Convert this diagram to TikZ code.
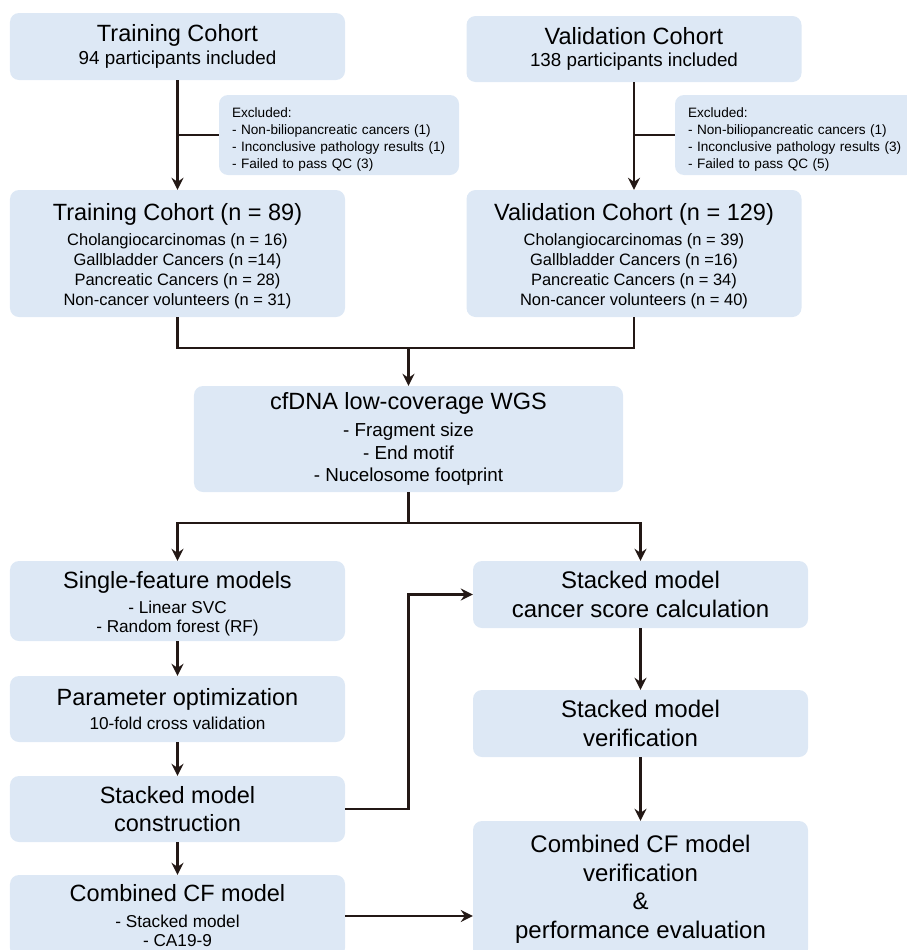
\documentclass[tikz,border=0pt]{standalone}
\usepackage{fontspec}
\setmainfont{Liberation Sans}
\usetikzlibrary{arrows.meta}

\definecolor{boxblue}{RGB}{221,232,245}
\definecolor{linedark}{RGB}{35,24,21}

\newcommand{\bigfont}{\fontsize{23.5bp}{27.5bp}\selectfont}
\newcommand{\rightfont}{\fontsize{24bp}{28.5bp}\selectfont}
\newcommand{\subfont}{\fontsize{18.8bp}{22.5bp}\selectfont}
\newcommand{\listfont}{\fontsize{17.2bp}{19.5bp}\selectfont}
\newcommand{\bodyfont}{\fontsize{16.5bp}{20bp}\selectfont}
\newcommand{\notefont}{\fontsize{13.6bp}{17bp}\selectfont}
\newcommand{\lift}[1]{\rule{0pt}{#1}}

\begin{document}
\begin{tikzpicture}[x=1bp, y=-1bp,
	box/.style={fill=boxblue, rounded corners=9bp, align=center, inner sep=0pt, minimum width=335bp},
	note/.style={fill=boxblue, rounded corners=9bp, align=left, text width=214bp, inner xsep=13bp, inner ysep=0pt, minimum height=80bp, font=\notefont},
	conn/.style={draw=linedark, line width=2.1bp},
	arr/.style={conn, -{Stealth[length=12bp, width=12bp, inset=4bp]}}]
	\useasboundingbox (0, 0) rectangle (907, 950);

	% cohorts
	\node [box, minimum height=67bp, font=\subfont] (trainTop) at (177.5, 46.5) {{\bigfont Training Cohort}\\[0bp] 94 participants included};
	\node [box, minimum height=66bp, font=\subfont] (valTop) at (634, 49) {{\bigfont Validation Cohort}\\[0bp] 138 participants included};

	\node [note] (exclL) at (339, 135) {\lift{18bp}Excluded:\\ - Non-biliopancreatic cancers (1)\\ - Inconclusive pathology results (1)\\ - Failed to pass QC (3)};
	\node [note] (exclR) at (795, 135) {\lift{18bp}Excluded:\\ - Non-biliopancreatic cancers (1)\\ - Inconclusive pathology results (3)\\ - Failed to pass QC (5)};

	\node [box, minimum height=127bp, font=\bodyfont] (trainMid) at (177.5, 253.5) {{\bigfont\lift{23bp}Training Cohort (n = 89)}\\[5bp] Cholangiocarcinomas (n = 16)\\ Gallbladder Cancers (n =14)\\ Pancreatic Cancers (n = 28)\\ Non-cancer volunteers (n = 31)};
	\node [box, minimum height=127bp, font=\bodyfont] (valMid) at (634, 253.5) {{\bigfont\lift{23bp}Validation Cohort (n = 129)}\\[5bp] Cholangiocarcinomas (n = 39)\\ Gallbladder Cancers (n =16)\\ Pancreatic Cancers (n = 34)\\ Non-cancer volunteers (n = 40)};

	% sequencing
	\node [box, minimum width=429bp, minimum height=106bp, font=\subfont] (cfdna) at (408.5, 439) {{\bigfont cfDNA low-coverage WGS}\\[5bp] - Fragment size\\ - End motif\\ - Nucelosome footprint};

	% training side
	\node [box, minimum height=80bp, font=\listfont] (single) at (177.5, 601) {{\bigfont\lift{23bp}Single-feature models}\\[5bp] - Linear SVC\\ - Random forest (RF)};
	\node [box, minimum height=66bp, font=\listfont] (param) at (177.5, 709) {{\bigfont Parameter optimization}\\[4bp] 10-fold cross validation};
	\node [box, minimum height=66bp, font=\bigfont] (stackCons) at (177.5, 809) {Stacked model\\ construction};
	\node [box, minimum height=82bp, font=\listfont] (combCF) at (177.5, 916) {{\bigfont Combined CF model}\\[6bp] - Stacked model\\ - CA19-9};

	% validation side
	\node [box, minimum height=67bp, font=\rightfont] (score) at (640.5, 594.5) {Stacked model\\ cancer score calculation};
	\node [box, minimum height=67bp, font=\rightfont] (stackVer) at (640.5, 723.5) {Stacked model\\ verification};
	\node [box, minimum height=137bp, font=\rightfont] (combVer) at (640.5, 889.5) {Combined CF model\\ verification\\ \&\\ performance evaluation};

	\coordinate (merge) at (408.5, 348);
	\coordinate (split) at (408.5, 523);

	\draw [arr] (trainTop.south) -- (trainMid.north);
	\draw [arr] (valTop.south) -- (valMid.north);
	\draw [conn] (trainTop.south |- exclL.west) -- (exclL.west);
	\draw [conn] (valTop.south |- exclR.west) -- (exclR.west);

	\draw [conn] (trainMid.south) |- (merge) -| (valMid.south);
	\draw [arr] (merge) -- (cfdna.north);

	\draw [conn] (cfdna.south) -- (split);
	\draw [arr] (split) -| (single.north);
	\draw [arr] (split) -| (score.north);

	\draw [arr] (single) -- (param);
	\draw [arr] (param) -- (stackCons);
	\draw [arr] (stackCons) -- (combCF);

	\draw [arr] (score) -- (stackVer);
	\draw [arr] (stackVer) -- (combVer);

	\draw [arr] (stackCons.east) -- (stackCons.east -| merge) |- (score.west);
	\draw [arr] (combCF.east) -- (combVer.west |- combCF.east);
\end{tikzpicture}
\end{document}
